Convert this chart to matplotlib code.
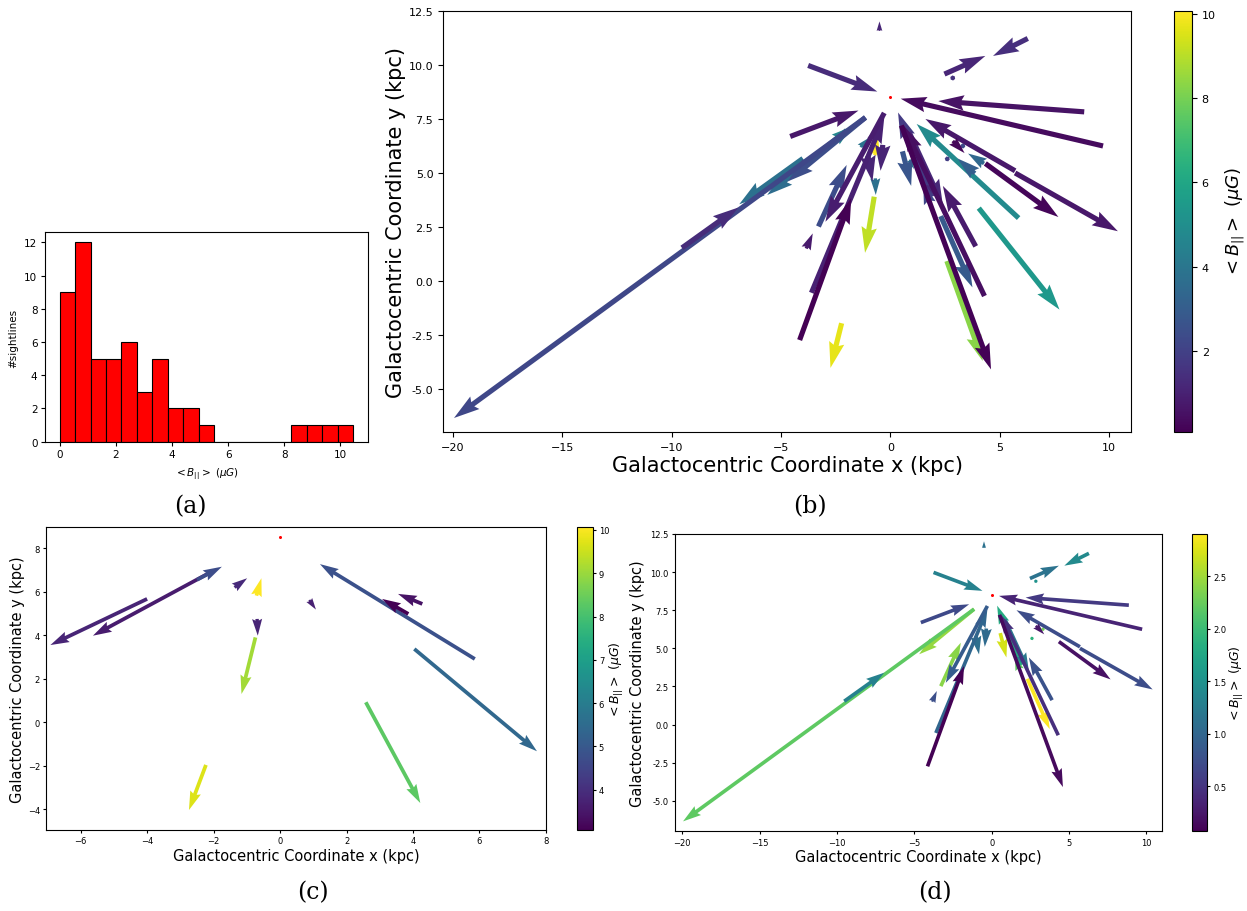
import numpy as np
import matplotlib
matplotlib.use("Agg")
import matplotlib.pyplot as plt

plt.rcParams["mathtext.fontset"] = "dejavusans"

# histogram of <B_||> per sightline (bin width 0.55 uG)
HIST_EDGES = [round(0.55 * i, 2) for i in range(20)]
HIST_COUNTS = [9, 12, 5, 5, 6, 3, 5, 2, 2, 1, 0, 0, 0, 0, 0, 1, 1, 1, 1]

# sightline segments with <B_||> >= 3 uG: tail (x0, y0) -> head (x1, y1), kpc
HI_X0 = [-4.0, -2.0, -2.5, -1.37, -0.71, 0.88, -0.69, -0.74, -2.23, 5.86, 3.86, 4.28, 4.04, 2.58]
HI_Y0 = [5.67, 6.97, 6.55, 6.20, 5.82, 5.62, 4.75, 3.90, -1.96, 2.91, 4.98, 5.44, 3.37, 0.92]
HI_X1 = [-6.91, -5.63, -1.75, -0.99, -0.56, 1.08, -0.67, -1.16, -2.74, 1.20, 3.07, 3.55, 7.73, 4.22]
HI_Y1 = [3.55, 3.98, 7.15, 6.62, 6.62, 5.18, 3.98, 1.30, -4.03, 7.27, 5.67, 5.90, -1.33, -3.71]
HI_B = [3.8, 3.6, 4.7, 3.9, 10.06, 3.7, 3.8, 9.1, 9.7, 4.8, 3.07, 3.4, 5.4, 8.3]

# sightline segments with <B_||> < 3 uG
LO_X0 = [-0.50, -3.76, 2.47, 6.28, 2.85, 8.86, 9.72, 5.70, 5.70, 4.34, 2.85, 3.31, 2.60,
         0.50, 4.30, 2.30, 0.55, 1.90, 3.90, 0.85, 1.80,
         -4.58, -1.14, -1.14, -9.53, -3.61, -4.15, -0.28, -3.29, -3.85, -1.03, -0.35]
LO_Y0 = [11.58, 9.98, 9.58, 11.23, 9.40, 7.83, 6.25, 5.10, 5.00, 5.44, 6.48, 6.25, 5.65,
         7.20, -0.70, 3.00, 6.00, 3.90, 1.60, 6.90, 3.60,
         6.69, 7.57, 7.57, 1.53, -0.55, -2.74, 7.78, 2.52, 1.50, 5.80, 6.30]
LO_X1 = [-0.50, -0.60, 4.34, 4.69, 2.86, 2.19, 0.47, 1.60, 10.40, 7.68, 3.39, 3.33, 2.64,
         4.60, 0.60, 3.75, 0.95, 0.35, 2.40, 2.40, 1.50,
         -1.46, -19.95, -4.69, -6.95, -0.28, -1.79, -2.97, -2.00, -3.55, -0.82, -0.45]
LO_Y1 = [12.02, 8.77, 10.42, 10.42, 9.32, 8.33, 8.44, 7.50, 2.30, 2.96, 5.92, 6.15, 5.55,
         -4.10, 7.20, -0.30, 4.40, 7.80, 4.40, 3.50, 4.50,
         7.89, -6.35, 4.61, 3.40, 7.57, 3.84, 2.74, 5.37, 2.20, 4.60, 5.10]
LO_B = [1.13, 1.30, 1.15, 1.42, 1.50, 0.55, 0.36, 0.73, 0.73, 0.20, 0.25, 2.30, 1.90,
        0.15, 0.45, 2.90, 2.72, 1.80, 0.79, 1.20, 2.20,
        0.70, 2.20, 2.45, 1.30, 1.00, 0.074, 0.88, 2.40, 0.75, 1.10, 1.05]

SUN = (0.0, 8.5)

XLABEL = "Galactocentric Coordinate x (kpc)"
YLABEL = "Galactocentric Coordinate y (kpc)"
BLABEL = r"$< B_{||} >$ ($\mu G$)"


def quiver_panel(ax, cax, x0, y0, x1, y1, b, lab_size, tick_size, cb_size, cb_pad,
                 tick_len=3.5, tick_pad=3.5):
    x0, y0 = np.asarray(x0), np.asarray(y0)
    u, v = np.asarray(x1) - x0, np.asarray(y1) - y0
    q = ax.quiver(x0, y0, u, v, b, cmap="viridis",
                  angles="xy", scale_units="xy", scale=1)
    ax.plot(*SUN, "o", color="red", ms=2.2, mec="none")
    ax.set_xlabel(XLABEL, fontsize=lab_size, labelpad=2)
    ax.set_ylabel(YLABEL, fontsize=lab_size, labelpad=2)
    ax.tick_params(labelsize=tick_size, length=tick_len, pad=tick_pad)
    cb = plt.colorbar(q, cax=cax)
    cb.set_label(BLABEL, fontsize=cb_size, labelpad=cb_pad)
    cb.ax.tick_params(labelsize=tick_size, length=tick_len, pad=tick_pad)
    return cb


fig = plt.figure(figsize=(12.47, 9.12), dpi=100)

# (a) histogram
ax_a = fig.add_axes([0.0361, 0.5146, 0.2588, 0.2294])
widths = np.diff(HIST_EDGES)
ax_a.bar(HIST_EDGES[:-1], HIST_COUNTS, width=widths, align="edge",
         color="red", edgecolor="black", linewidth=0.8)
ax_a.set_xlim(-0.52, 10.97)
ax_a.set_ylim(0, 12.6)
ax_a.set_yticks([0, 2, 4, 6, 8, 10, 12])
ax_a.set_xticks([0, 2, 4, 6, 8, 10])
ax_a.tick_params(labelsize=7.5, length=3, pad=2.5)
ax_a.set_xlabel(BLABEL, fontsize=7.5)
ax_a.set_ylabel("#sightlines", fontsize=7.5)

# (b) all sightlines
all_x0 = HI_X0 + LO_X0
all_y0 = HI_Y0 + LO_Y0
all_x1 = HI_X1 + LO_X1
all_y1 = HI_Y1 + LO_Y1
all_b = HI_B + LO_B
ax_b = fig.add_axes([0.3553, 0.5252, 0.5517, 0.4616])
cax_b = fig.add_axes([0.9415, 0.5252, 0.0144, 0.4616])
order = np.argsort(all_b)[::-1]
quiver_panel(ax_b, cax_b, np.take(all_x0, order), np.take(all_y0, order),
             np.take(all_x1, order), np.take(all_y1, order), np.take(all_b, order),
             15, 8, 13, 6)
ax_b.set_xlim(-20.45, 11.0)
ax_b.set_ylim(-7.0, 12.5)
ax_b.set_xticks([-20, -15, -10, -5, 0, 5, 10])
ax_b.set_yticks(np.arange(-5, 12.6, 2.5))
ax_b.yaxis.set_major_formatter(matplotlib.ticker.FormatStrFormatter("%.1f"))
cax_b.set_yticks([2, 4, 6, 8, 10])

# (c) strong field sightlines
ax_c = fig.add_axes([0.0372, 0.0888, 0.4006, 0.3319])
cax_c = fig.add_axes([0.4625, 0.0888, 0.0127, 0.3319])
cb_c = quiver_panel(ax_c, cax_c, HI_X0, HI_Y0, HI_X1, HI_Y1, HI_B, 10.5, 6, 9, 1,
                    tick_len=2.5, tick_pad=2)
cb_c.ax.yaxis.set_label_coords(1.95, 0.5)
ax_c.set_xlim(-7.03, 8.0)
ax_c.set_ylim(-4.95, 8.96)
ax_c.set_xticks([-6, -4, -2, 0, 2, 4, 6, 8])
ax_c.set_yticks([-4, -2, 0, 2, 4, 6, 8])

# (d) weak field sightlines
ax_d = fig.add_axes([0.5409, 0.0874, 0.3909, 0.3260])
cax_d = fig.add_axes([0.9559, 0.0874, 0.0120, 0.3260])
order = np.argsort(LO_B)[::-1]
quiver_panel(ax_d, cax_d, np.take(LO_X0, order), np.take(LO_Y0, order),
             np.take(LO_X1, order), np.take(LO_Y1, order), np.take(LO_B, order),
             10.5, 6, 9, 1, tick_len=2.5, tick_pad=2)
ax_d.yaxis.set_label_coords(-0.06, 0.5)
ax_d.set_xlim(-20.5, 11.0)
ax_d.set_ylim(-7.0, 12.5)
ax_d.set_xticks([-20, -15, -10, -5, 0, 5, 10])
ax_d.set_yticks(np.arange(-5, 12.6, 2.5))
ax_d.yaxis.set_major_formatter(matplotlib.ticker.FormatStrFormatter("%.1f"))
cax_d.set_yticks([0.5, 1.0, 1.5, 2.0, 2.5])

for lab, (fx, fy) in {"(a)": (0.1524, 0.4441), "(b)": (0.6496, 0.4441),
                      "(c)": (0.2510, 0.0208), "(d)": (0.7498, 0.0208)}.items():
    fig.text(fx, fy, lab, ha="center", va="center", fontsize=17,
             family="DejaVu Serif")

fig.savefig("out.png", dpi=100)
